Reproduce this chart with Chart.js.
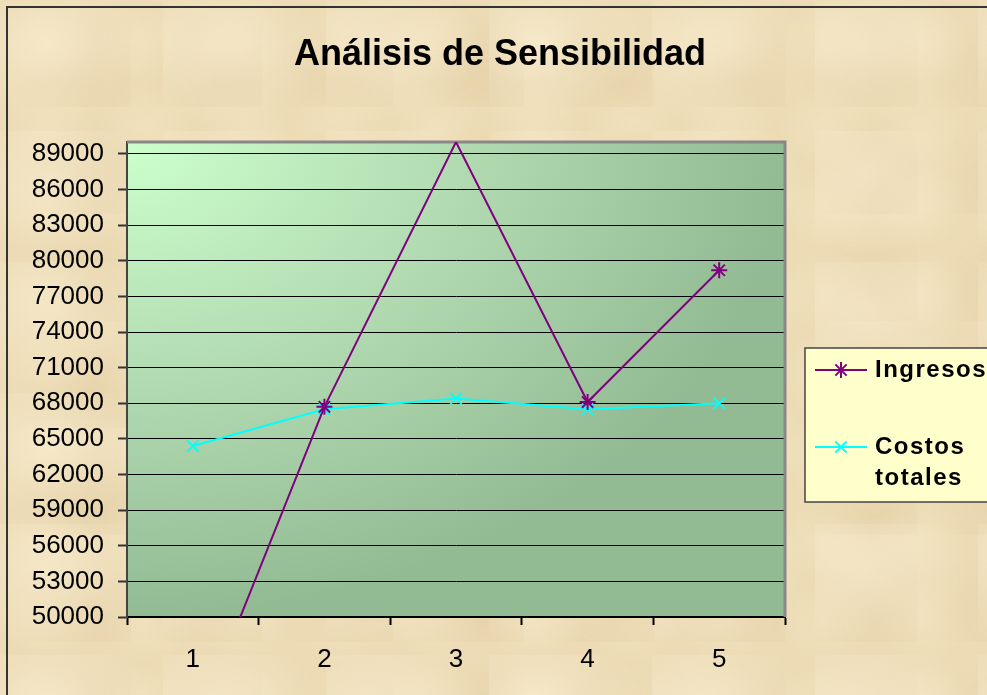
<!DOCTYPE html>
<html lang="es">
<head>
<meta charset="utf-8">
<title>Análisis de Sensibilidad</title>
<script src="https://cdn.jsdelivr.net/npm/chart.js@4/dist/chart.umd.min.js"></script>
<style>
    html, body {
        margin: 0;
        padding: 0;
        width: 987px;
        height: 695px;
        overflow: hidden;
    }
    body {
        background-color: #ecdbb5;
        background-image:
            radial-gradient(ellipse at 30% 35%, rgba(255, 246, 222, 0.4), transparent 65%),
            radial-gradient(ellipse at 70% 75%, rgba(210, 182, 135, 0.2), transparent 60%),
            radial-gradient(ellipse at 50% 50%, rgba(250, 238, 205, 0.3), transparent 70%);
        background-size: 163px 131px, 131px 107px, 97px 83px;
    }
    .frame {
        position: absolute;
        left: 6px;
        top: 6px;
        width: 1000px;
        height: 700px;
        border-left: 2px solid #333;
        border-top: 2px solid #333;
    }
    #wrap {
        position: absolute;
        left: 0;
        top: 0;
        width: 987px;
        height: 695px;
    }
</style>
</head>
<body>
<div class="frame"></div>
<div id="wrap"><canvas id="sensChart"></canvas></div>
<script>
// Sensitivity data
const categories = ['1', '2', '3', '4', '5'];
const ingresos = [40000, 67700, 90000, 68100, 79200];
const costosTotales = [64400, 67500, 68400, 67500, 68000];
const yTicks = [50000, 53000, 56000, 59000, 62000, 65000, 68000, 71000, 74000, 77000, 80000, 83000, 86000, 89000];
const yMin = 50000;
const yMax = 90000;
const chartTitle = 'Análisis de Sensibilidad';

// Plot background gradient + gray frame on top/right
const plotBackground = {
    id: 'plotBackground',
    beforeDraw(chart) {
        const { ctx, chartArea: a } = chart;
        const w = a.right - a.left;
        const h = a.bottom - a.top;
        ctx.save();
        ctx.translate(a.left, a.top);
        ctx.scale(w / h, 1);
        const g = ctx.createRadialGradient(0, 0, 0, 0, 0, h);
        g.addColorStop(0, '#ccffcc');
        g.addColorStop(0.5, '#b2dbb2');
        g.addColorStop(1, '#93bb93');
        ctx.fillStyle = g;
        ctx.fillRect(0, 0, h, h);
        ctx.restore();
    },
    beforeDatasetsDraw(chart) {
        const { ctx, chartArea: a } = chart;
        ctx.save();
        ctx.strokeStyle = '#888';
        ctx.lineWidth = 3;
        ctx.beginPath();
        ctx.moveTo(a.left, a.top);
        ctx.lineTo(a.right, a.top);
        ctx.lineTo(a.right, a.bottom);
        ctx.stroke();
        ctx.restore();
    }
};

// Title centred over the whole canvas
const topTitle = {
    id: 'topTitle',
    afterDraw(chart) {
        const ctx = chart.ctx;
        ctx.save();
        ctx.font = 'bold 36px "Liberation Sans", Arial, sans-serif';
        ctx.fillStyle = '#000';
        ctx.textAlign = 'center';
        ctx.textBaseline = 'alphabetic';
        ctx.fillText(chartTitle, 500, 65);
        ctx.restore();
    }
};

// Legend box on the right, labels wrapped to fit
const sideLegend = {
    id: 'sideLegend',
    afterDraw(chart) {
        const ctx = chart.ctx;
        const box = { x: 805, y: 348, w: 200, h: 154 };
        ctx.save();
        ctx.fillStyle = '#ffffcc';
        ctx.fillRect(box.x, box.y, box.w, box.h);
        ctx.strokeStyle = '#444';
        ctx.lineWidth = 1.5;
        ctx.strokeRect(box.x, box.y, box.w, box.h);

        const rows = [370, 447];
        ctx.font = 'bold 24px "Liberation Sans", Arial, sans-serif';
        ctx.letterSpacing = '1.5px';
        ctx.textBaseline = 'middle';
        chart.data.datasets.forEach((ds, i) => {
            const y = rows[i];
            ctx.strokeStyle = ds.borderColor;
            ctx.lineWidth = 2;
            ctx.beginPath();
            ctx.moveTo(815, y);
            ctx.lineTo(867, y);
            ctx.stroke();
            Chart.helpers.drawPoint(ctx, {
                pointStyle: ds.pointStyle,
                radius: 8,
                rotation: 0,
                borderWidth: 2
            }, 841, y);

            // wrap words
            const words = ds.label.split(' ');
            const lines = [];
            let cur = '';
            words.forEach(wd => {
                const test = cur ? cur + ' ' + wd : wd;
                if (cur && ctx.measureText(test).width > 112) {
                    lines.push(cur);
                    cur = wd;
                } else {
                    cur = test;
                }
            });
            lines.push(cur);
            ctx.fillStyle = '#000';
            lines.forEach((ln, k) => ctx.fillText(ln, 875, y + k * 31));
        });
        ctx.restore();
    }
};

Chart.defaults.font.family = '"Liberation Sans", Arial, sans-serif';
Chart.defaults.color = '#000';

new Chart(document.getElementById('sensChart'), {
    type: 'line',
    data: {
        labels: categories,
        datasets: [
            {
                label: 'Ingresos',
                data: ingresos,
                borderColor: '#800080',
                backgroundColor: '#800080',
                borderWidth: 2,
                pointStyle: 'star',
                pointRadius: [8, 8, 0, 8, 8],
                pointBorderWidth: 2,
                tension: 0
            },
            {
                label: 'Costos totales',
                data: costosTotales,
                borderColor: '#00ffff',
                backgroundColor: '#00ffff',
                borderWidth: 2,
                pointStyle: 'crossRot',
                pointRadius: 8,
                pointBorderWidth: 2,
                tension: 0
            }
        ]
    },
    options: {
        responsive: true,
        maintainAspectRatio: false,
        animation: false,
        layout: {
            padding: { left: 0, right: 202, top: 142, bottom: 0 }
        },
        plugins: {
            legend: { display: false },
            tooltip: { enabled: false },
            title: { display: false }
        },
        scales: {
            x: {
                offset: true,
                grid: {
                    offset: true,
                    drawOnChartArea: false,
                    tickLength: 8,
                    tickColor: '#000',
                    tickWidth: 2
                },
                border: { color: '#000', width: 2 },
                ticks: {
                    font: { size: 26 },
                    padding: 19,
                    maxRotation: 0
                },
                afterFit(scale) {
                    scale.height = 78;
                }
            },
            y: {
                min: yMin,
                max: yMax,
                grid: {
                    color: '#000',
                    lineWidth: 1,
                    tickLength: 9,
                    tickColor: '#333',
                    tickWidth: 2
                },
                border: { color: '#444', width: 2 },
                ticks: {
                    font: { size: 26 },
                    padding: 14,
                    callback: v => String(v)
                },
                afterBuildTicks(scale) {
                    scale.ticks = yTicks.map(v => ({ value: v }));
                },
                afterFit(scale) {
                    scale.width = 127;
                }
            }
        }
    },
    plugins: [plotBackground, topTitle, sideLegend]
});
</script>
</body>
</html>
